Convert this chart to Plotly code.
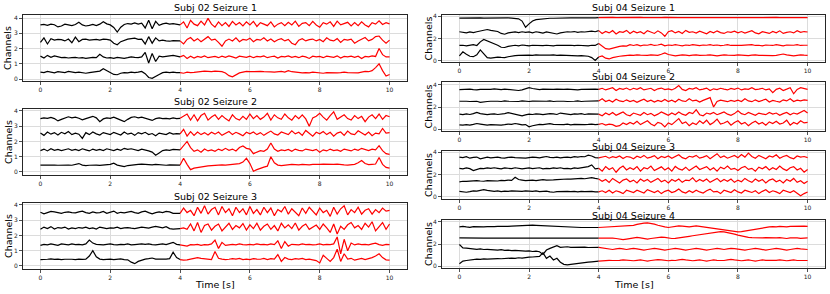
import numpy as np
import plotly.graph_objects as go

SPLIT_T = 4.0
X_TICKS = [0, 2, 4, 6, 8, 10]

# ---------------- Subj 02 Seizure 1 ----------------
s02_sz1_ch3 = [3.55,3.58,3.52,3.6,3.56,3.42,3.48,3.6,3.55,3.5,
               3.58,3.72,3.55,3.48,3.52,3.58,3.5,3.6,3.76,3.62,
               3.55,3.38,3.08,3.4,3.58,3.64,3.6,3.68,3.6,3.66,
               3.35,3.85,3.3,3.78,3.52,3.62,3.66,3.6,3.64,3.6,
               3.55,3.75,3.35,3.85,3.6,3.5,3.8,3.55,3.98,3.6,
               3.4,3.75,3.5,3.7,3.45,3.78,3.55,3.7,3.48,3.75,
               3.55,3.78,3.45,3.7,3.6,3.5,3.75,3.42,3.6,3.7,
               3.5,3.72,3.55,3.8,3.45,3.65,3.7,3.5,3.78,3.55,
               3.4,3.7,3.6,3.75,3.45,3.8,3.55,3.65,3.72,3.48,
               3.7,3.5,3.75,3.55,3.42,3.7,3.6,3.82,3.58,3.7,
               3.62]
s02_sz1_ch2 = [2.4,2.7,2.3,2.65,2.55,2.6,2.58,2.5,2.62,2.38,
               2.75,2.45,2.6,2.62,2.55,2.58,2.6,2.55,2.62,2.6,
               2.55,2.35,2.25,2.45,2.55,2.62,2.65,2.68,2.6,2.62,
               2.3,2.78,2.35,2.7,2.5,2.55,2.5,2.48,2.52,2.5,
               2.5,2.3,2.6,2.72,2.5,2.65,2.45,2.6,2.78,2.55,
               2.62,2.4,2.15,2.5,2.62,2.5,2.7,2.45,2.6,2.55,
               2.68,2.45,2.6,2.55,2.7,2.5,2.62,2.45,2.58,2.65,
               2.5,2.6,2.35,2.25,2.55,2.65,2.5,2.58,2.62,2.5,
               2.6,2.45,2.7,2.55,2.5,2.65,2.4,2.6,2.55,2.62,
               2.35,2.5,2.6,2.72,2.5,2.6,2.78,2.82,2.55,2.35,
               2.55]
s02_sz1_ch1 = [1.5,1.38,1.55,1.42,1.52,1.45,1.4,1.42,1.38,1.4,
               1.42,1.38,1.4,1.36,1.4,1.42,1.4,1.62,1.45,1.38,
               1.4,1.35,1.42,1.38,1.36,1.4,1.45,1.42,1.4,1.45,
               1.75,1.05,1.68,1.15,1.5,1.45,1.5,1.52,1.55,1.48,
               1.45,1.55,1.35,1.5,1.38,1.48,1.42,1.52,1.4,1.45,
               1.48,1.4,1.5,1.42,1.52,1.45,1.38,1.5,1.45,1.42,
               1.5,1.4,1.48,1.45,1.52,1.4,1.46,1.5,1.38,1.48,
               1.45,1.52,1.42,1.48,1.4,1.5,1.45,1.35,1.5,1.45,
               1.48,1.4,1.5,1.45,1.42,1.52,1.38,1.48,1.45,1.5,
               1.42,1.5,1.35,1.48,1.45,1.52,1.48,2.0,1.6,1.45,
               1.45]
s02_sz1_ch0 = [0.45,0.42,0.5,0.44,0.4,0.48,0.45,0.42,0.5,0.47,
               0.42,0.45,0.4,0.38,0.42,0.45,0.48,0.52,0.68,0.55,
               0.45,0.3,0.28,0.38,0.42,0.4,0.45,0.42,0.45,0.5,
               0.35,0.1,0.05,0.15,0.3,0.42,0.45,0.42,0.45,0.42,
               0.42,0.38,0.45,0.42,0.44,0.47,0.5,0.52,0.5,0.48,
               0.52,0.5,0.48,0.4,0.22,0.15,0.3,0.4,0.45,0.5,
               0.48,0.5,0.52,0.5,0.48,0.5,0.47,0.45,0.48,0.5,
               0.45,0.55,0.48,0.45,0.42,0.4,0.42,0.4,0.45,0.42,
               0.4,0.38,0.42,0.4,0.38,0.4,0.42,0.45,0.42,0.4,
               0.42,0.4,0.45,0.5,0.48,0.55,0.75,1.0,0.55,0.2,
               0.3]

# ---------------- Subj 02 Seizure 2 ----------------
s02_sz2_ch3 = [3.5,3.55,3.52,3.58,3.5,3.35,3.45,3.55,3.62,3.55,
               3.6,3.52,3.42,3.5,3.6,3.65,3.55,3.3,3.48,3.55,
               3.52,3.6,3.5,3.42,3.3,3.45,3.58,3.62,3.55,3.6,
               3.52,3.48,3.38,3.5,3.55,3.5,3.52,3.48,3.55,3.5,
               3.52,3.65,3.8,3.4,3.75,3.35,3.7,3.85,3.4,3.6,
               3.75,3.45,3.7,3.5,3.35,3.75,3.5,3.4,3.65,3.45,
               3.8,3.5,3.7,3.45,3.6,3.85,3.4,3.75,3.55,3.45,
               3.8,3.55,3.4,3.7,3.5,3.75,3.48,3.0,3.55,3.65,
               3.85,3.6,3.4,3.7,3.95,3.45,3.6,3.75,3.5,3.4,
               3.7,3.5,3.65,3.3,3.6,3.75,3.5,3.8,3.45,3.7,
               3.62]
s02_sz2_ch2 = [2.55,2.4,2.62,2.48,2.58,2.42,2.6,2.5,2.65,2.45,
               2.55,2.48,2.2,2.58,2.45,2.62,2.5,2.42,2.58,2.5,
               2.45,2.6,2.5,2.42,2.62,2.48,2.55,2.4,2.58,2.5,
               2.6,2.45,2.52,2.38,2.55,2.5,2.45,2.58,2.48,2.52,
               2.5,2.8,2.35,2.65,2.4,2.62,2.45,2.58,2.42,2.6,
               2.48,2.62,2.4,2.55,2.65,2.45,2.6,2.5,2.38,2.6,
               2.5,2.62,2.45,2.58,2.4,2.55,2.68,2.5,2.42,2.62,
               2.55,2.45,2.7,2.5,2.6,2.4,2.72,2.55,2.35,2.6,
               2.5,2.65,2.45,2.6,2.35,2.55,2.62,2.4,2.68,2.5,
               2.45,2.7,2.55,2.42,2.62,2.38,2.55,2.5,2.85,2.55,
               2.58]
s02_sz2_ch1 = [1.4,1.5,1.38,1.52,1.42,1.48,1.4,1.45,1.52,1.42,
               1.48,1.4,1.52,1.45,1.38,1.5,1.42,1.48,1.4,1.52,
               1.45,1.4,1.5,1.42,1.55,1.48,1.52,1.45,1.4,1.5,
               1.45,1.38,1.3,1.1,1.25,1.4,1.45,1.42,1.48,1.45,
               1.45,1.75,2.0,1.6,1.35,1.45,1.3,1.5,1.38,1.45,
               1.35,1.5,1.4,1.55,1.42,1.5,1.38,1.6,1.7,1.55,
               1.5,1.2,1.3,1.4,1.35,1.5,1.9,1.5,1.35,1.45,
               1.4,1.48,1.35,1.5,1.42,1.38,1.5,1.45,1.4,1.48,
               1.3,1.45,1.38,1.5,1.4,1.45,1.35,1.5,1.42,1.38,
               1.5,1.42,1.55,1.45,1.4,1.5,1.45,1.72,1.4,1.2,
               1.15]
s02_sz2_ch0 = [0.45,0.46,0.44,0.47,0.45,0.44,0.46,0.47,0.45,0.44,
               0.5,0.55,0.45,0.42,0.44,0.46,0.45,0.43,0.44,0.46,
               0.5,0.58,0.45,0.4,0.35,0.42,0.46,0.48,0.5,0.52,
               0.5,0.48,0.46,0.5,0.47,0.45,0.44,0.46,0.45,0.44,
               0.45,0.9,0.5,0.15,0.25,0.3,0.35,0.38,0.4,0.42,
               0.44,0.45,0.46,0.45,0.47,0.5,0.52,0.55,0.65,0.9,
               0.55,0.05,0.15,0.25,0.32,0.38,1.0,0.6,0.45,0.42,
               0.45,0.47,0.5,0.48,0.46,0.5,0.48,0.47,0.5,0.48,
               0.5,0.52,0.5,0.48,0.5,0.52,0.48,0.47,0.45,0.48,
               0.5,0.6,0.75,0.55,0.48,0.5,0.52,0.95,0.5,0.3,
               0.25]

# ---------------- Subj 02 Seizure 3 ----------------
s02_sz3_ch3 = [3.52,3.42,3.5,3.58,3.55,3.48,3.45,3.52,3.55,3.5,
               3.48,3.55,3.6,3.5,3.45,3.55,3.48,3.5,3.58,3.45,
               3.5,3.6,3.45,3.52,3.48,3.55,3.58,3.5,3.45,3.55,
               3.6,3.5,3.42,3.5,3.55,3.5,3.58,3.55,3.45,3.45,
               3.45,3.8,3.5,3.65,3.3,3.85,3.45,3.95,3.4,3.7,
               3.85,3.35,3.9,3.5,3.75,3.3,3.85,3.5,3.75,3.35,
               3.9,3.45,3.7,3.35,3.85,3.5,3.8,3.3,3.7,3.55,
               3.9,3.4,3.75,3.5,3.3,3.8,3.45,3.85,3.6,3.35,
               3.8,3.5,3.65,3.25,3.85,3.4,3.75,3.95,3.35,3.7,
               3.5,3.85,3.4,3.65,3.75,3.4,3.7,3.5,3.8,3.6,
               3.65]
s02_sz3_ch2 = [2.4,2.55,2.45,2.58,2.42,2.52,2.48,2.55,2.42,2.5,
               2.45,2.52,2.48,2.55,2.45,2.5,2.42,2.55,2.5,2.45,
               2.5,2.48,2.55,2.45,2.5,2.52,2.48,2.45,2.5,2.55,
               2.52,2.48,2.55,2.6,2.55,2.5,2.58,2.45,2.42,2.45,
               2.45,2.5,2.4,2.75,2.3,2.85,2.2,2.65,2.75,2.35,
               2.6,2.75,2.3,2.55,2.8,2.4,2.65,2.5,2.78,2.35,
               2.7,2.45,2.8,2.35,2.6,2.75,2.4,2.65,2.3,2.8,
               2.5,2.7,2.45,2.82,2.35,2.6,2.75,2.4,2.55,2.68,
               2.4,2.75,2.5,2.2,2.75,2.1,2.6,2.4,2.7,2.85,
               2.5,2.65,2.4,2.8,2.55,2.9,2.3,2.6,2.85,2.4,
               2.75]
s02_sz3_ch1 = [1.35,1.42,1.38,1.45,1.4,1.35,1.45,1.42,1.38,1.45,
               1.4,1.42,1.38,1.45,1.7,1.5,1.42,1.4,1.38,1.42,
               1.45,1.4,1.38,1.42,1.4,1.45,1.38,1.4,1.42,1.45,
               1.42,1.45,1.4,1.38,1.42,1.45,1.4,1.5,1.55,1.42,
               1.38,1.35,1.3,1.4,1.38,1.42,1.35,1.4,1.38,1.45,
               1.7,1.15,1.55,1.35,1.4,1.42,1.38,1.45,1.4,1.38,
               1.42,1.38,1.45,1.4,1.42,1.38,1.45,1.4,1.65,1.15,
               1.6,1.3,1.42,1.4,1.38,1.45,1.4,1.42,1.38,1.4,
               1.45,1.38,1.42,1.4,1.45,1.9,0.8,1.75,1.0,1.5,
               1.38,1.45,1.4,1.42,1.38,1.45,1.5,1.4,1.35,1.42,
               1.4]
s02_sz3_ch0 = [0.42,0.45,0.44,0.46,0.43,0.45,0.42,0.44,0.46,0.44,
               0.42,0.45,0.43,0.44,0.65,1.0,0.6,0.45,0.42,0.44,
               0.45,0.42,0.44,0.46,0.42,0.4,0.25,0.15,0.3,0.4,
               0.45,0.48,0.52,0.45,0.44,0.46,0.45,0.48,0.9,0.55,
               0.42,0.38,0.4,0.45,0.5,0.55,0.5,0.48,0.45,0.42,
               0.95,0.5,0.45,0.42,0.44,0.48,0.45,0.5,0.42,0.45,
               0.42,0.48,0.45,0.44,0.5,0.42,0.48,0.45,0.75,0.3,
               0.55,0.45,0.42,0.48,0.45,0.5,0.42,0.45,0.4,0.35,
               0.2,0.7,0.5,0.3,0.55,1.1,0.3,0.8,0.45,0.5,
               0.38,0.45,0.5,0.42,0.48,0.55,0.65,0.8,0.55,0.4,
               0.38]

# ---------------- Subj 04 Seizure 1 ----------------
s04_sz1_ch3 = [3.82,3.83,3.82,3.84,3.82,3.83,3.84,3.82,3.83,3.82,
               3.82,3.83,3.84,3.82,3.83,3.82,3.8,3.75,3.55,3.0,
               3.3,3.55,3.68,3.72,3.76,3.78,3.8,3.8,3.82,3.82,
               3.82,3.83,3.84,3.83,3.82,3.84,3.83,3.82,3.83,3.84,
               3.85,3.87,3.85,3.86,3.88,3.85,3.86,3.87,3.85,3.86,
               3.86,3.85,3.87,3.86,3.85,3.87,3.86,3.85,3.86,3.87,
               3.85,3.86,3.87,3.85,3.86,3.88,3.86,3.85,3.86,3.85,
               3.86,3.87,3.85,3.86,3.85,3.87,3.86,3.85,3.86,3.87,
               3.86,3.85,3.87,3.86,3.85,3.86,3.87,3.85,3.86,3.85,
               3.86,3.87,3.85,3.86,3.85,3.86,3.87,3.86,3.85,3.86,
               3.86]
s04_sz1_ch2 = [2.6,2.55,2.5,2.58,2.52,2.6,2.65,2.75,2.8,2.72,
               2.7,2.62,2.45,2.38,2.5,2.55,2.58,2.52,2.6,2.55,
               2.58,2.5,2.6,2.55,2.48,2.58,2.52,2.45,2.4,2.5,
               2.55,2.6,2.58,2.62,2.55,2.6,2.58,2.62,2.65,2.6,
               2.7,2.45,2.62,2.5,2.7,2.4,2.6,2.55,2.72,2.45,
               2.65,2.5,2.6,2.42,2.7,2.55,2.45,2.68,2.5,2.2,
               2.6,2.7,2.5,2.62,2.45,2.72,2.55,2.6,2.48,2.65,
               2.55,2.42,2.62,2.5,2.68,2.52,2.45,2.6,2.55,2.65,
               2.5,2.62,2.48,2.58,2.7,2.5,2.42,2.6,2.55,2.45,
               2.62,2.5,2.68,2.45,2.55,2.6,2.5,2.7,2.55,2.62,
               2.58]
s04_sz1_ch1 = [1.38,1.4,1.35,1.38,1.45,1.38,1.7,1.92,1.8,1.62,
               1.5,1.4,1.22,1.2,1.3,1.38,1.4,1.35,1.42,1.38,
               1.35,1.4,1.38,1.42,1.36,1.4,1.38,1.35,1.4,1.38,
               1.42,1.38,1.4,1.36,1.4,1.38,1.42,1.35,1.4,1.38,
               1.55,1.3,1.1,1.05,1.15,1.22,1.3,1.35,1.32,1.45,
               1.38,1.45,1.35,1.42,1.4,1.48,1.38,1.42,1.5,1.35,
               1.42,1.38,1.45,1.4,1.35,1.42,1.38,1.45,1.4,1.36,
               1.42,1.4,1.45,1.38,1.42,1.36,1.4,1.45,1.38,1.42,
               1.4,1.38,1.42,1.4,1.45,1.38,1.4,1.35,1.42,1.4,
               1.38,1.45,1.4,1.35,1.42,1.38,1.4,1.45,1.38,1.4,
               1.4]
s04_sz1_ch0 = [0.45,0.82,0.6,0.42,0.38,0.55,0.98,0.6,0.3,0.25,
               0.3,0.35,0.32,0.3,0.38,0.45,0.48,0.5,0.52,0.55,
               0.52,0.5,0.55,0.52,0.5,0.48,0.52,0.55,0.5,0.52,
               0.5,0.52,0.48,0.5,0.45,0.48,0.45,0.42,0.3,0.05,
               0.35,0.45,0.25,0.18,0.3,0.38,0.42,0.45,0.5,0.52,
               0.5,0.55,0.52,0.48,0.5,0.55,0.52,0.5,0.6,0.72,
               0.58,0.5,0.45,0.5,0.55,0.52,0.48,0.52,0.55,0.5,
               0.48,0.52,0.55,0.5,0.45,0.5,0.55,0.52,0.48,0.5,
               0.55,0.52,0.5,0.48,0.52,0.55,0.5,0.48,0.52,0.5,
               0.48,0.5,0.55,0.62,0.55,0.5,0.45,0.5,0.55,0.52,
               0.5]

# ---------------- Subj 04 Seizure 2 ----------------
s04_sz2_ch3 = [3.58,3.6,3.56,3.62,3.58,3.55,3.6,3.58,3.62,3.6,
               3.65,3.6,3.58,3.62,3.6,3.58,3.55,3.5,3.55,3.62,
               3.75,3.68,3.6,3.58,3.62,3.6,3.56,3.6,3.62,3.58,
               3.6,3.62,3.58,3.6,3.55,3.6,3.62,3.58,3.6,3.62,
               3.6,3.7,3.55,3.65,3.75,3.5,3.68,3.6,3.72,3.55,
               3.7,3.6,3.75,3.55,3.62,3.7,3.5,3.65,3.72,3.58,
               3.65,3.55,3.7,3.95,3.6,3.5,3.68,3.62,3.75,3.55,
               3.62,3.72,3.5,3.65,3.58,3.7,3.62,3.55,3.68,3.6,
               3.72,3.55,3.65,3.6,3.75,3.58,3.62,3.7,3.55,3.65,
               3.3,3.6,3.7,3.5,3.62,3.75,3.2,3.6,3.75,3.65,
               3.6]
s04_sz2_ch2 = [2.52,2.55,2.52,2.5,2.54,2.52,2.42,2.48,2.5,2.52,
               2.55,2.52,2.5,2.55,2.52,2.5,2.53,2.5,2.55,2.52,
               2.5,2.54,2.52,2.55,2.5,2.52,2.55,2.5,2.52,2.55,
               2.52,2.5,2.54,2.52,2.55,2.5,2.52,2.54,2.5,2.52,
               2.55,2.75,2.5,2.62,2.45,2.7,2.55,2.48,2.65,2.5,
               2.6,2.42,2.58,2.7,2.5,2.62,2.45,2.6,2.5,2.68,
               2.5,2.62,2.45,2.7,2.55,2.5,2.75,2.55,2.62,2.45,
               2.6,2.72,2.85,2.0,2.5,2.62,2.55,2.48,2.6,2.52,
               2.62,2.5,2.75,2.55,2.48,2.65,2.5,2.58,2.7,2.45,
               2.6,2.52,2.45,2.65,2.55,2.75,2.5,2.62,2.55,2.65,
               2.6]
s04_sz2_ch1 = [1.35,1.3,1.38,1.32,1.4,1.5,1.4,1.35,1.3,1.35,
               1.38,1.32,1.35,1.4,1.48,1.42,1.35,1.3,1.2,1.28,
               1.35,1.32,1.38,1.35,1.3,1.35,1.4,1.38,1.32,1.45,
               1.4,1.35,1.3,1.38,1.35,1.4,1.32,1.38,1.35,1.32,
               1.35,1.2,1.45,1.3,1.5,1.25,1.4,1.55,1.3,1.2,
               1.45,1.35,1.25,1.5,1.3,1.42,1.2,1.35,1.55,1.4,
               1.25,1.45,1.3,1.55,1.35,1.25,1.5,1.4,1.75,1.3,
               1.2,1.45,1.35,1.5,1.3,1.42,1.55,1.35,1.25,1.4,
               1.65,1.4,1.3,1.5,1.35,1.25,1.45,1.4,1.3,1.5,
               1.35,1.45,1.25,1.4,1.5,1.3,1.45,1.35,1.5,1.68,
               1.45]
s04_sz2_ch0 = [0.38,0.35,0.4,0.36,0.42,0.5,0.45,0.38,0.35,0.4,
               0.38,0.42,0.36,0.4,0.45,0.42,0.5,0.45,0.38,0.4,
               0.2,0.3,0.38,0.42,0.4,0.45,0.48,0.42,0.4,0.44,
               0.4,0.45,0.38,0.42,0.4,0.44,0.4,0.42,0.45,0.4,
               0.42,0.5,0.35,0.45,0.4,0.25,0.3,0.55,0.4,0.6,
               0.45,0.7,0.4,0.55,0.75,0.45,0.3,0.6,0.5,0.2,
               0.55,0.4,0.7,0.95,0.5,0.65,0.3,0.55,0.4,0.75,
               0.5,0.8,0.4,0.6,0.9,0.45,0.55,0.7,0.35,0.6,
               0.75,0.45,0.6,0.3,0.55,0.7,0.45,0.6,0.35,0.65,
               0.5,0.7,0.45,0.55,0.8,0.35,0.6,0.45,0.75,0.55,
               0.6]

# ---------------- Subj 04 Seizure 3 ----------------
s04_sz3_ch3 = [3.55,3.5,3.58,3.45,3.52,3.55,3.4,3.5,3.55,3.48,
               3.52,3.55,3.48,3.45,3.52,3.55,3.5,3.48,3.52,3.45,
               3.5,3.55,3.52,3.48,3.55,3.6,3.52,3.5,3.55,3.48,
               3.52,3.55,3.5,3.58,3.55,3.6,3.58,3.72,3.65,3.5,
               3.48,3.55,3.62,3.45,3.58,3.5,3.65,3.42,3.6,3.55,
               3.4,3.62,3.5,3.7,3.45,3.55,3.68,3.4,3.6,3.5,
               3.65,3.45,3.58,3.75,3.5,3.4,3.62,3.55,3.7,3.45,
               3.55,3.68,3.4,3.6,3.85,3.5,3.65,3.45,3.6,3.7,
               3.5,3.78,3.55,3.9,3.6,3.45,3.7,3.55,3.4,3.65,
               3.55,3.75,3.45,3.6,3.7,3.5,3.4,3.65,3.55,3.6,
               3.5]
s04_sz3_ch2 = [2.55,2.5,2.58,2.52,2.35,2.48,2.55,2.52,2.58,2.55,
               2.6,2.55,2.5,2.58,2.55,2.52,2.6,2.55,2.5,2.55,
               2.58,2.52,2.55,2.6,2.5,2.55,2.52,2.58,2.55,2.6,
               2.52,2.55,2.5,2.58,2.55,2.6,2.62,2.7,2.85,2.5,
               2.55,2.3,2.7,2.45,2.6,2.2,2.55,2.75,2.4,2.6,
               2.45,2.7,2.3,2.6,2.5,2.75,2.35,2.55,2.68,2.4,
               2.6,2.3,2.72,2.5,2.4,2.65,2.35,2.55,2.75,2.45,
               2.55,2.7,2.4,2.6,2.3,2.65,2.5,2.75,2.45,2.55,
               2.35,2.6,2.72,2.45,2.55,2.3,2.65,2.5,2.7,2.4,
               2.6,2.45,2.75,2.5,2.35,2.6,2.7,2.4,2.55,2.2,
               2.45]
s04_sz3_ch1 = [1.35,1.4,1.38,1.42,1.4,1.45,1.42,1.4,1.45,1.42,
               1.45,1.42,1.48,1.45,1.5,1.48,1.75,1.55,1.5,1.45,
               1.48,1.5,1.45,1.52,1.55,1.5,1.48,1.52,1.55,1.58,
               1.55,1.6,1.58,1.62,1.6,1.65,1.62,1.68,1.72,1.65,
               1.6,1.4,1.55,1.3,1.65,1.45,1.25,1.5,1.6,1.35,
               1.5,1.25,1.6,1.4,1.55,1.3,1.45,1.65,1.35,1.5,
               1.25,1.55,1.4,1.6,1.3,1.5,1.45,1.7,1.35,1.55,
               1.4,1.6,1.3,1.5,1.65,1.35,1.55,1.4,1.6,1.3,
               1.5,1.35,1.65,1.45,1.3,1.6,1.4,1.55,1.25,1.5,
               1.6,1.35,1.5,1.25,1.55,1.4,1.65,1.3,1.45,1.2,
               1.4]
s04_sz3_ch0 = [0.5,0.45,0.42,0.48,0.55,0.52,0.6,0.65,0.58,0.52,
               0.5,0.55,0.48,0.52,0.5,0.55,0.52,0.48,0.5,0.55,
               0.52,0.5,0.55,0.48,0.5,0.52,0.45,0.42,0.48,0.5,
               0.52,0.5,0.48,0.5,0.45,0.5,0.48,0.52,0.5,0.45,
               0.45,0.55,0.4,0.6,0.35,0.55,0.45,0.3,0.6,0.5,
               0.4,0.6,0.45,0.35,0.65,0.5,0.4,0.55,0.3,0.5,
               0.6,0.4,0.5,0.7,0.45,0.35,0.55,0.4,0.6,0.45,
               0.35,0.55,0.7,0.45,0.5,0.3,0.6,0.5,0.4,0.65,
               0.45,0.35,0.6,0.5,0.4,0.55,0.3,0.5,0.65,0.4,
               0.55,0.45,0.3,0.6,0.5,0.4,0.55,0.35,0.1,0.3,
               0.45]

# ---------------- Subj 04 Seizure 4 ----------------
s04_sz4_ch3 = [3.55,3.6,3.55,3.52,3.58,3.55,3.57,3.55,3.58,3.56,
               3.58,3.6,3.58,3.62,3.6,3.63,3.65,3.66,3.68,3.7,
               3.7,3.72,3.7,3.68,3.66,3.65,3.63,3.6,3.58,3.56,
               3.55,3.54,3.53,3.52,3.52,3.5,3.5,3.49,3.5,3.5,
               3.5,3.52,3.5,3.53,3.55,3.55,3.58,3.6,3.62,3.65,
               3.7,3.78,3.85,3.9,3.92,3.88,3.8,3.7,3.6,3.55,
               3.5,3.55,3.6,3.65,3.62,3.58,3.55,3.6,3.65,3.6,
               3.55,3.5,3.45,3.4,3.35,3.3,3.25,3.2,3.15,3.1,
               3.1,3.12,3.18,3.25,3.3,3.35,3.4,3.45,3.5,3.55,
               3.58,3.55,3.6,3.58,3.55,3.6,3.62,3.58,3.6,3.62,
               3.6]
s04_sz4_ch2 = [2.55,2.54,2.53,2.54,2.53,2.55,2.54,2.53,2.54,2.55,
               2.54,2.53,2.54,2.55,2.54,2.53,2.54,2.55,2.54,2.53,
               2.54,2.55,2.54,2.53,2.54,2.55,2.54,2.53,2.54,2.55,
               2.54,2.53,2.54,2.55,2.54,2.53,2.54,2.55,2.54,2.54,
               2.54,2.55,2.56,2.55,2.54,2.5,2.45,2.4,2.45,2.5,
               2.55,2.6,2.55,2.5,2.45,2.5,2.55,2.6,2.62,2.6,
               2.55,2.5,2.52,2.55,2.6,2.65,2.7,2.75,2.8,2.85,
               2.9,2.95,3.0,3.05,3.1,3.12,3.1,3.05,3.0,2.9,
               2.8,2.72,2.65,2.6,2.58,2.55,2.52,2.55,2.58,2.55,
               2.52,2.55,2.58,2.55,2.5,2.55,2.58,2.55,2.52,2.55,
               2.55]
s04_sz4_ch1 = [1.95,1.65,1.62,1.58,1.55,1.52,1.55,1.5,1.52,1.48,
               1.5,1.45,1.48,1.42,1.45,1.4,1.42,1.38,1.4,1.35,
               1.38,1.32,1.35,1.3,1.05,1.45,1.6,1.75,1.85,1.7,
               1.72,1.75,1.7,1.72,1.68,1.7,1.72,1.68,1.7,1.72,
               1.7,1.65,1.6,1.55,1.5,1.55,1.6,1.55,1.5,1.55,
               1.6,1.55,1.5,1.45,1.5,1.55,1.6,1.55,1.5,1.45,
               1.5,1.55,1.6,1.55,1.5,1.45,1.5,1.55,1.6,1.55,
               1.5,1.45,1.5,1.55,1.6,1.55,1.5,1.55,1.6,1.58,
               1.55,1.5,1.45,1.5,1.55,1.6,1.55,1.5,1.45,1.5,
               1.55,1.6,1.55,1.5,1.45,1.5,1.55,1.6,1.55,1.5,
               1.5]
s04_sz4_ch0 = [0.2,0.45,0.5,0.55,0.6,0.62,0.6,0.65,0.62,0.66,
               0.65,0.68,0.66,0.7,0.68,0.72,0.7,0.75,0.72,0.78,
               0.8,0.82,0.85,0.88,1.2,0.7,0.9,0.55,0.7,0.35,
               0.15,0.1,0.15,0.2,0.22,0.28,0.3,0.35,0.38,0.42,
               0.45,0.48,0.5,0.52,0.5,0.48,0.52,0.55,0.52,0.5,
               0.48,0.52,0.55,0.5,0.45,0.5,0.55,0.58,0.55,0.5,
               0.48,0.52,0.5,0.55,0.6,0.55,0.5,0.48,0.52,0.55,
               0.5,0.45,0.5,0.55,0.52,0.48,0.5,0.55,0.6,0.55,
               0.5,0.48,0.52,0.55,0.5,0.45,0.5,0.55,0.52,0.5,
               0.48,0.52,0.55,0.5,0.48,0.52,0.55,0.5,0.48,0.5,
               0.5]

titles = ["Subj 02 Seizure 1", "Subj 02 Seizure 2", "Subj 02 Seizure 3",
          "Subj 04 Seizure 1", "Subj 04 Seizure 2", "Subj 04 Seizure 3", "Subj 04 Seizure 4"]
panel_channels = [
    [s02_sz1_ch0, s02_sz1_ch1, s02_sz1_ch2, s02_sz1_ch3],
    [s02_sz2_ch0, s02_sz2_ch1, s02_sz2_ch2, s02_sz2_ch3],
    [s02_sz3_ch0, s02_sz3_ch1, s02_sz3_ch2, s02_sz3_ch3],
    [s04_sz1_ch0, s04_sz1_ch1, s04_sz1_ch2, s04_sz1_ch3],
    [s04_sz2_ch0, s04_sz2_ch1, s04_sz2_ch2, s04_sz2_ch3],
    [s04_sz3_ch0, s04_sz3_ch1, s04_sz3_ch2, s04_sz3_ch3],
    [s04_sz4_ch0, s04_sz4_ch1, s04_sz4_ch2, s04_sz4_ch3],
]
left_yticks = [0, 1, 2, 3, 4]
right_yticks = [0, 2, 4]

# ---- layout geometry (pixels in an 830x294 canvas) ----
W, H = 830, 294
# (x0, x1, ytop, ybottom, yrange, yticks, title_y, label_x)
geom = [
    (23, 407, 15, 81, [-0.13, 4.2], left_yticks, 7, 8),
    (23, 407, 109, 175, [-0.2, 4.13], left_yticks, 102, 8),
    (23, 407, 203, 269, [-0.2, 4.13], left_yticks, 196, 8),
    (442, 825, 15, 62, [-0.09, 4.09], right_yticks, 7, 428),
    (442, 825, 82, 131, [-0.18, 4.27], right_yticks, 77, 428),
    (442, 825, 151, 199, [-0.18, 4.09], right_yticks, 146, 428),
    (442, 825, 220, 268, [-0.18, 4.18], right_yticks, 215, 428),
]

FONT = "DejaVu Sans"
fig = go.Figure()
layout = dict(
    width=W, height=H, margin=dict(l=0, r=0, t=0, b=0, autoexpand=False),
    paper_bgcolor="white", plot_bgcolor="white", showlegend=False,
    font=dict(family=FONT, color="black"),
)
annotations = []

for i, (chans, title, g) in enumerate(zip(panel_channels, titles, geom)):
    n = i + 1
    xa = "x" if n == 1 else f"x{n}"
    ya = "y" if n == 1 else f"y{n}"
    for v in chans:
        v = np.asarray(v, dtype=float)
        t = np.linspace(0, 10, len(v))
        k = int(np.searchsorted(t, SPLIT_T - 1e-9))
        fig.add_trace(go.Scatter(x=t[:k + 1], y=v[:k + 1], mode="lines",
                                 line=dict(color="black", width=1.2), xaxis=xa, yaxis=ya,
                                 hoverinfo="skip"))
        fig.add_trace(go.Scatter(x=t[k:], y=v[k:], mode="lines",
                                 line=dict(color="red", width=1.2), xaxis=xa, yaxis=ya,
                                 hoverinfo="skip"))
    x0, x1, yt, yb, yr, yt_vals, ty, lx = g
    common = dict(showline=True, mirror=True, linecolor="#262626", linewidth=1,
                  ticks="outside", ticklen=3, tickwidth=0.8, tickcolor="#262626",
                  showgrid=True, gridcolor="#dcdcdc", gridwidth=1, zeroline=False,
                  automargin=False,
                  tickfont=dict(size=6, family=FONT, color="#222"))
    layout["xaxis" if n == 1 else f"xaxis{n}"] = dict(
        domain=[x0 / W, x1 / W], anchor=ya, range=[-0.5, 10.5],
        tickmode="array", tickvals=X_TICKS, ticktext=[str(v) for v in X_TICKS], **common)
    layout["yaxis" if n == 1 else f"yaxis{n}"] = dict(
        domain=[1 - yb / H, 1 - yt / H], anchor=xa, range=yr,
        tickmode="array", tickvals=yt_vals, ticktext=[str(v) for v in yt_vals], **common)
    annotations.append(dict(text=title, x=(x0 + x1) / 2 / W, y=1 - ty / H,
                            xref="paper", yref="paper", showarrow=False,
                            xanchor="center", yanchor="middle",
                            font=dict(size=9.5, family=FONT, color="black")))
    annotations.append(dict(text="Channels", x=lx / W, y=1 - (yt + yb) / 2 / H,
                            xref="paper", yref="paper", showarrow=False, textangle=-90,
                            xanchor="center", yanchor="middle",
                            font=dict(size=9.5, family=FONT, color="black")))

for cx in [(23 + 407) / 2, (442 + 825) / 2]:
    annotations.append(dict(text="Time [s]", x=cx / W, y=1 - 284 / H,
                            xref="paper", yref="paper", showarrow=False,
                            xanchor="center", yanchor="middle",
                            font=dict(size=9.5, family=FONT, color="black")))

layout["annotations"] = annotations
fig.update_layout(**layout)
fig.write_html("out.html", config={"displayModeBar": False, "staticPlot": True},
               post_script="document.body.style.margin='0px';document.body.style.padding='0px';")
